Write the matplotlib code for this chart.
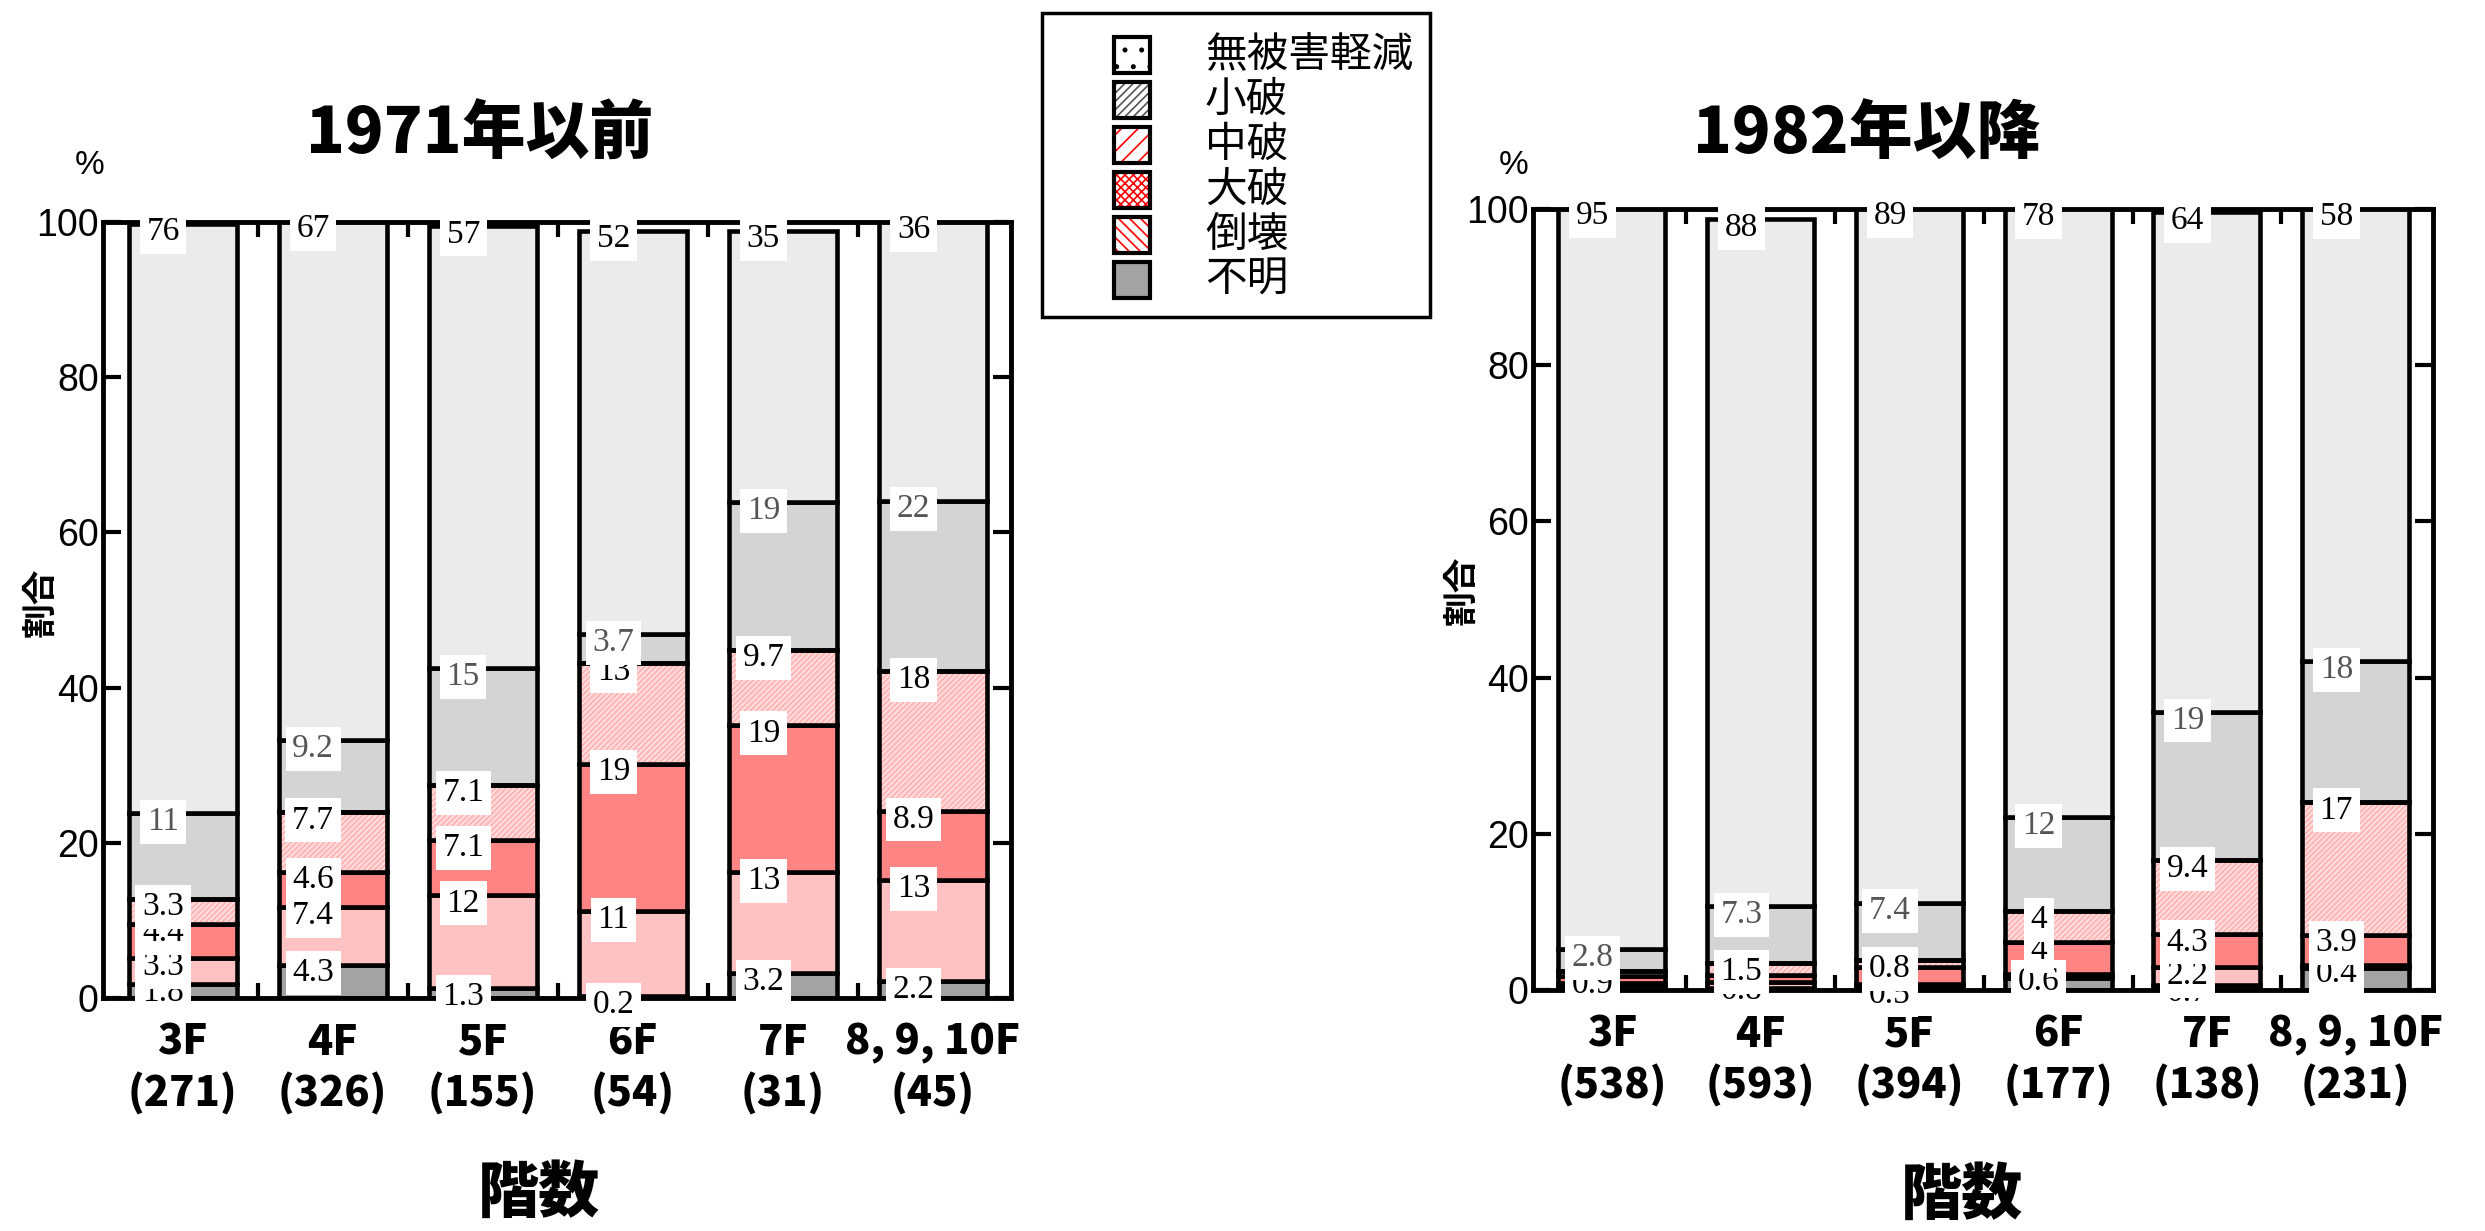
import matplotlib
matplotlib.use("Agg")
import matplotlib.pyplot as plt
from matplotlib.patches import Rectangle
import numpy as np

plt.rcParams['font.family'] = ['Noto Sans CJK JP', 'DejaVu Sans']
plt.rcParams['hatch.linewidth'] = 1.2

# ---------------- data ----------------
floors = ["3F", "4F", "5F", "6F", "7F", "8, 9, 10F"]
counts_old = [271, 326, 155, 54, 31, 45]
counts_new = [538, 593, 394, 177, 138, 231]

legend_names = ["無被害軽減", "小破", "中破", "大破", "倒壊", "不明"]

# 1971年以前 (%), stacked bottom -> top: 不明, 倒壊, 大破, 中破, 小破, 無被害軽減
old_unknown = [1.8, 4.3, 1.3, 0.2, 3.2, 2.2]
old_collapse = [3.3, 7.4, 12, 11, 13, 13]
old_heavy = [4.4, 4.6, 7.1, 19, 19, 8.9]
old_moderate = [3.3, 7.7, 7.1, 13, 9.7, 18]
old_minor = [11, 9.2, 15, 3.7, 19, 22]
old_none = [76, 67, 57, 52, 35, 36]

# 1982年以降 (%)
new_unknown = [0.6, 0.2, 0.5, 1.5, 0.7, 2.8]
new_collapse = [0.3, 0.8, 0.3, 0.6, 2.2, 0.4]
new_heavy = [0.9, 0.9, 2.2, 4, 4.3, 3.9]
new_moderate = [0.6, 1.5, 0.8, 4, 9.4, 17]
new_minor = [2.8, 7.3, 7.4, 12, 19, 18]
new_none = [95, 88, 89, 78, 64, 58]

# which values carry a printed label in the newer-building chart
new_show_unknown = [False, False, True, False, True, False]
new_show_collapse = [False, True, False, True, True, True]
new_show_heavy = [True, False, False, True, True, True]
new_show_moderate = [False, True, True, True, True, True]
all_shown = [True] * 6

# ---------------- styles ----------------
col_unknown = '#a3a3a3'
col_collapse = '#ffc2c2'
col_heavy = '#ff8484'
col_moderate = '#ffdcdc'
col_minor = '#d4d4d4'
col_none = '#ebebeb'
hatch_moderate = ('#ffb0b0', '//////')

W, H = 2485, 1231
fig = plt.figure(figsize=(W / 100, H / 100), dpi=100)

def px_axes(l, t, r, b):
    return fig.add_axes([l / W, 1 - b / H, (r - l) / W, (b - t) / H])

def draw_chart(ax, layers, counts, clip_bottom):
    x = np.arange(len(floors))
    bottom = np.zeros(len(floors))
    clip = Rectangle((0, -clip_bottom), 1, 1.2, transform=ax.transAxes,
                     fill=False, visible=False)
    ax.add_patch(clip)
    for k, (vals, color, show, tcol, hatch) in enumerate(layers):
        vals = np.asarray(vals, dtype=float)
        if hatch is None:
            ax.bar(x, vals, width=0.72, bottom=bottom, color=color,
                   edgecolor='black', linewidth=3.3, zorder=2)
        else:
            ax.bar(x, vals, width=0.72, bottom=bottom, facecolor=color,
                   edgecolor=hatch[0], hatch=hatch[1], linewidth=0, zorder=2)
            ax.bar(x, vals, width=0.72, bottom=bottom, fill=False,
                   edgecolor='black', linewidth=3.3, zorder=2.1)
        tops = bottom + vals
        for i in range(len(x)):
            if show[i]:
                t = ax.text(x[i] - 0.13, tops[i] - 1.1, f"{vals[i]:g}",
                            ha='center', va='center', fontsize=24,
                            family='Liberation Serif', color=tcol,
                            zorder=10 + k,
                            bbox=dict(boxstyle='square,pad=0.2',
                                      facecolor='white', edgecolor='none'))
                t.set_clip_path(clip)
        bottom = tops
    ax.set_xlim(-0.53, 5.52)
    ax.set_ylim(0, 100)
    ax.set_yticks([0, 20, 40, 60, 80, 100])
    ax.set_xticks(x)
    ax.set_xticklabels([f"{f}\n({c})" for f, c in zip(floors, counts)],
                       fontsize=30, fontweight='black', linespacing=1.25)
    ax.set_xticks(np.arange(0.5, 5.0, 1.0), minor=True)
    ax.tick_params(axis='x', which='major', length=0, pad=17)
    ax.tick_params(axis='x', which='minor', direction='in', length=11,
                   width=3, top=True, bottom=True)
    ax.tick_params(axis='y', which='major', direction='in', length=13,
                   width=3, left=True, right=True, labelsize=27, pad=3)
    for lbl in ax.get_yticklabels():
        lbl.set_fontfamily('Liberation Sans')
    for s in ax.spines.values():
        s.set_linewidth(3.5)
        s.set_zorder(3)

ax1 = px_axes(103, 222, 1011, 998)
draw_chart(ax1, [
    (old_unknown, col_unknown, all_shown, 'black', None),
    (old_collapse, col_collapse, all_shown, 'black', None),
    (old_heavy, col_heavy, all_shown, 'black', None),
    (old_moderate, col_moderate, all_shown, 'black', hatch_moderate),
    (old_minor, col_minor, all_shown, '#555555', None),
    (old_none, col_none, all_shown, 'black', None),
], counts_old, 0.05)

ax2 = px_axes(1533, 209, 2433, 990)
draw_chart(ax2, [
    (new_unknown, col_unknown, new_show_unknown, 'black', None),
    (new_collapse, col_collapse, new_show_collapse, 'black', None),
    (new_heavy, col_heavy, new_show_heavy, 'black', None),
    (new_moderate, col_moderate, new_show_moderate, 'black', hatch_moderate),
    (new_minor, col_minor, all_shown, '#555555', None),
    (new_none, col_none, all_shown, 'black', None),
], counts_new, 0.014)

# ---------------- overlay texts & legend (pixel coords) ----------------
ov = fig.add_axes([0, 0, 1, 1], zorder=20)
ov.set_xlim(0, W)
ov.set_ylim(H, 0)
ov.axis('off')

ov.text(480, 135, "1971年以前", ha='center', va='center', fontsize=46, fontweight='black')
ov.text(1867, 135, "1982年以降", ha='center', va='center', fontsize=46, fontweight='black')
ov.text(90, 165, "%", ha='center', va='center', fontsize=24, family='Liberation Sans')
ov.text(1514, 166, "%", ha='center', va='center', fontsize=24, family='Liberation Sans')
ov.text(40, 602, "割合", ha='center', va='center', fontsize=25, rotation=90, fontweight='bold')
ov.text(1461, 590, "割合", ha='center', va='center', fontsize=25, rotation=90, fontweight='bold')
ov.text(539, 1194, "階数", ha='center', va='center', fontsize=44, fontweight='black')
ov.text(1962, 1196, "階数", ha='center', va='center', fontsize=44, fontweight='black')

# legend
ov.add_patch(Rectangle((1042, 13), 388, 304, fill=False, edgecolor='black', linewidth=2.5))
leg_styles = [
    ('white', 'black', '.'),
    ('white', '#555555', '////'),
    ('white', 'red', '//'),
    ('white', 'red', 'xxxx'),
    ('white', 'red', '\\\\\\'),
    (col_unknown, col_unknown, None),
]
for j, (name, (fc, hc, hatch)) in enumerate(zip(legend_names, leg_styles)):
    y0 = 37 + 45 * j
    ov.add_patch(Rectangle((1114, y0), 36, 36, facecolor=fc, edgecolor=hc,
                           hatch=hatch, linewidth=0))
    ov.add_patch(Rectangle((1114, y0), 36, 36, fill=False, edgecolor='black',
                           linewidth=3))
    ov.text(1205, y0 + 18, name, ha='left', va='center', fontsize=30)

fig.savefig("out.png", dpi=100)
